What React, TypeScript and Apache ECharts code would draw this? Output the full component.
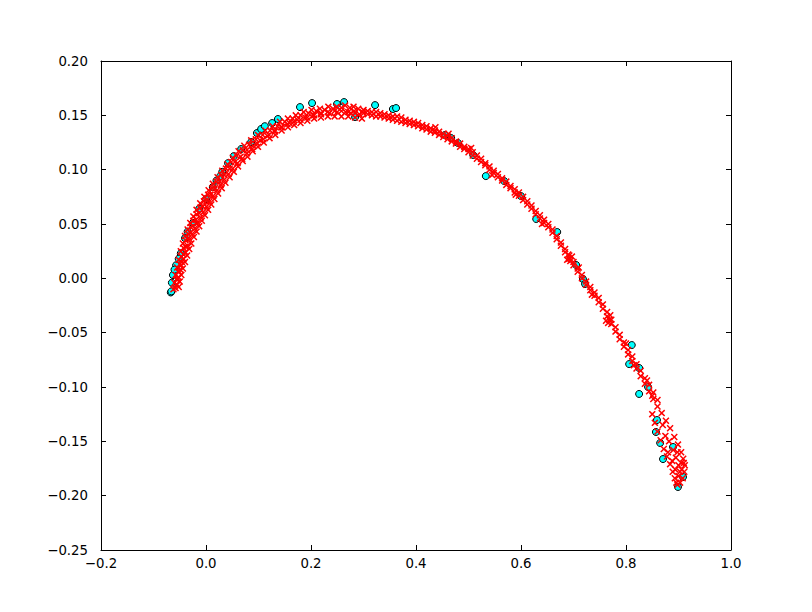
import React, { useEffect, useRef } from "react";
import * as echarts from "echarts";

const xTicks = [-0.2, 0.0, 0.2, 0.4, 0.6, 0.8, 1.0];
const yTicks = [-0.25, -0.2, -0.15, -0.1, -0.05, 0.0, 0.05, 0.1, 0.15, 0.2];

const cyanPoints: number[][] = [
  [-0.067, -0.013], [-0.066, -0.012], [-0.065, -0.004], [-0.063, 0.003], [-0.057, 0.012],
  [-0.048, 0.023], [-0.040, 0.037], [-0.025, 0.051], [-0.013, 0.064], [0.0, 0.073],
  [0.013, 0.084], [0.027, 0.094], [0.031, 0.098], [0.042, 0.106], [0.053, 0.1125],
  [0.067, 0.119], [0.086, 0.1254], [0.097, 0.1337], [0.105, 0.1374], [0.126, 0.1429],
  [0.137, 0.1466], [0.179, 0.1576], [0.202, 0.1613], [0.2495, 0.1604], [0.263, 0.1622],
  [0.284, 0.1484], [0.322, 0.1594], [0.356, 0.1558], [0.362, 0.1567], [0.455, 0.1319],
  [0.467, 0.1291], [0.48, 0.1245], [0.509, 0.1135], [0.533, 0.0941], [0.568, 0.0895],
  [0.60, 0.0757], [0.629, 0.0546], [0.669, 0.0426], [0.705, 0.0123], [0.718, -0.0006],
  [0.722, -0.0052], [0.811, -0.0614], [0.806, -0.0789], [0.825, -0.0825], [0.842, -0.100],
  [0.825, -0.1064], [0.859, -0.1304], [0.857, -0.1414], [0.865, -0.1515], [0.8895, -0.1552],
  [0.8705, -0.1663], [0.899, -0.192], [0.9086, -0.1828], [-0.060, 0.008], [-0.052, 0.018],
  [-0.035, 0.043], [0.020, 0.090], [0.112, 0.140],
];

// inner edge of the red band (close to the cyan points)
const redInner: number[][] = [
  [-0.062, -0.010], [-0.058, -0.009], [-0.055, -0.006], [-0.060, -0.004], [-0.056, -0.001],
  [-0.052, 0.001], [-0.058, 0.003], [-0.053, 0.006], [-0.049, 0.008], [-0.055, 0.010],
  [-0.050, 0.013], [-0.046, 0.015], [-0.052, 0.017], [-0.047, 0.020], [-0.043, 0.022],
  [-0.048, 0.025], [-0.043, 0.028], [-0.039, 0.029], [-0.044, 0.032], [-0.039, 0.035],
  [-0.035, 0.036], [-0.040, 0.039], [-0.034, 0.041], [-0.030, 0.042], [-0.035, 0.045],
  [-0.029, 0.047], [-0.025, 0.048], [-0.030, 0.051], [-0.024, 0.053], [-0.019, 0.054],
  [-0.024, 0.057], [-0.018, 0.059], [-0.013, 0.060], [-0.018, 0.063], [-0.011, 0.065],
  [-0.006, 0.066], [-0.011, 0.069], [-0.004, 0.071], [0.001, 0.071], [-0.003, 0.075],
  [0.004, 0.077], [0.009, 0.077], [0.005, 0.081], [0.012, 0.083], [0.017, 0.083],
  [0.013, 0.087], [0.020, 0.089], [0.026, 0.089], [0.022, 0.093], [0.029, 0.095],
  [0.035, 0.095], [0.031, 0.099], [0.038, 0.101], [0.045, 0.101], [0.041, 0.105],
  [0.048, 0.107], [0.055, 0.107], [0.051, 0.111], [0.058, 0.113], [0.066, 0.112],
  [0.062, 0.117], [0.070, 0.118], [0.078, 0.118], [0.073, 0.122], [0.082, 0.123],
  [0.090, 0.122], [0.086, 0.127], [0.095, 0.128], [0.103, 0.127], [0.099, 0.132],
  [0.108, 0.132], [0.117, 0.131], [0.113, 0.136], [0.122, 0.136], [0.131, 0.135],
  [0.127, 0.140], [0.136, 0.140], [0.145, 0.139], [0.141, 0.144], [0.150, 0.144],
  [0.159, 0.143], [0.156, 0.147], [0.165, 0.147], [0.174, 0.146], [0.171, 0.150],
  [0.180, 0.150], [0.189, 0.148], [0.186, 0.153], [0.195, 0.152], [0.204, 0.150],
  [0.201, 0.155], [0.210, 0.154], [0.219, 0.151], [0.217, 0.156], [0.226, 0.155],
  [0.235, 0.152], [0.233, 0.158], [0.242, 0.156], [0.250, 0.153], [0.249, 0.158],
  [0.258, 0.157], [0.266, 0.153], [0.265, 0.159], [0.274, 0.157], [0.282, 0.154],
  [0.281, 0.158], [0.290, 0.156], [0.298, 0.153], [0.292, 0.151], [0.276, 0.152],
];

// middle and outer rows of the red band on the rising side
const redMiddle: number[][] = [
  [-0.057, -0.006], [-0.054, 0.000], [-0.051, 0.006], [-0.047, 0.012], [-0.043, 0.018],
  [-0.039, 0.024], [-0.035, 0.030], [-0.031, 0.036], [-0.026, 0.041], [-0.021, 0.046],
  [-0.016, 0.051], [-0.010, 0.056], [-0.005, 0.061], [0.001, 0.066], [0.007, 0.071],
  [0.014, 0.076], [0.021, 0.081], [0.028, 0.086], [0.035, 0.091], [0.043, 0.096],
  [0.051, 0.101], [0.060, 0.106], [0.069, 0.110], [0.078, 0.115], [0.088, 0.119],
  [0.098, 0.124], [0.109, 0.128], [0.120, 0.132], [0.131, 0.136], [0.143, 0.139],
  [0.155, 0.142], [0.167, 0.144], [0.180, 0.146], [0.193, 0.148], [0.206, 0.150],
  [0.219, 0.152], [0.232, 0.153], [0.245, 0.154], [0.258, 0.154], [0.271, 0.153],
  [0.284, 0.152],
];

const redOuter: number[][] = [
  [-0.052, -0.008], [-0.050, -0.003], [-0.047, 0.003], [-0.044, 0.009], [-0.040, 0.015],
  [-0.036, 0.021], [-0.032, 0.027], [-0.028, 0.032], [-0.023, 0.038], [-0.018, 0.043],
  [-0.013, 0.048], [-0.008, 0.053], [-0.002, 0.058], [0.004, 0.063], [0.010, 0.068],
  [0.016, 0.073], [0.023, 0.078], [0.030, 0.083], [0.037, 0.088], [0.045, 0.093],
  [0.053, 0.098], [0.061, 0.103], [0.070, 0.108], [0.079, 0.112], [0.089, 0.117],
  [0.099, 0.121], [0.110, 0.125], [0.121, 0.129], [0.132, 0.132], [0.144, 0.136],
  [0.156, 0.139], [0.168, 0.141], [0.180, 0.143], [0.193, 0.145], [0.206, 0.147],
  [0.219, 0.148], [0.232, 0.149], [0.245, 0.149], [0.258, 0.149], [0.271, 0.149],
  [0.284, 0.148], [0.297, 0.147],
];

// descending side and the loop at the bottom
const redDescent: number[][] = [
  [0.300, 0.155], [0.300, 0.152], [0.308, 0.154], [0.308, 0.151], [0.316, 0.153],
  [0.316, 0.150], [0.324, 0.153], [0.324, 0.149], [0.332, 0.152], [0.332, 0.149],
  [0.340, 0.151], [0.340, 0.148], [0.348, 0.150], [0.348, 0.147], [0.356, 0.149],
  [0.356, 0.146], [0.364, 0.149], [0.364, 0.145], [0.372, 0.148], [0.372, 0.144],
  [0.380, 0.146], [0.380, 0.143], [0.388, 0.145], [0.388, 0.142], [0.396, 0.144],
  [0.396, 0.141], [0.404, 0.143], [0.404, 0.140], [0.412, 0.141], [0.412, 0.138],
  [0.420, 0.140], [0.420, 0.137], [0.428, 0.138], [0.428, 0.135], [0.436, 0.136],
  [0.436, 0.134], [0.444, 0.135], [0.444, 0.132], [0.452, 0.133], [0.452, 0.130],
  [0.460, 0.131], [0.460, 0.128], [0.468, 0.129], [0.468, 0.126], [0.476, 0.126],
  [0.476, 0.124], [0.484, 0.124], [0.484, 0.121], [0.492, 0.121], [0.492, 0.119],
  [0.500, 0.119], [0.500, 0.116], [0.508, 0.116], [0.508, 0.113], [0.516, 0.113],
  [0.516, 0.110], [0.524, 0.110], [0.524, 0.107], [0.532, 0.106], [0.532, 0.104],
  [0.540, 0.103], [0.540, 0.100], [0.548, 0.099], [0.548, 0.097], [0.556, 0.096],
  [0.556, 0.093], [0.564, 0.092], [0.564, 0.090], [0.572, 0.089], [0.572, 0.086],
  [0.580, 0.085], [0.580, 0.083], [0.588, 0.082], [0.588, 0.079], [0.596, 0.079],
  [0.596, 0.076], [0.604, 0.075], [0.604, 0.072], [0.612, 0.071], [0.612, 0.068],
  [0.620, 0.067], [0.620, 0.064], [0.628, 0.062], [0.628, 0.059], [0.636, 0.058],
  [0.636, 0.055], [0.644, 0.054], [0.644, 0.051], [0.652, 0.050], [0.652, 0.047],
  [0.660, 0.045], [0.660, 0.042], [0.668, 0.039], [0.668, 0.036], [0.676, 0.033],
  [0.676, 0.030], [0.684, 0.027], [0.684, 0.024], [0.692, 0.021], [0.692, 0.018],
  [0.690, 0.022], [0.694, 0.016], [0.697, 0.020], [0.688, 0.017],
  [0.700, 0.015], [0.700, 0.012], [0.708, 0.009], [0.708, 0.006], [0.716, 0.003],
  [0.716, 0.000], [0.724, -0.003], [0.724, -0.006], [0.732, -0.008], [0.732, -0.011],
  [0.740, -0.013], [0.740, -0.016], [0.748, -0.018], [0.748, -0.022], [0.756, -0.024],
  [0.756, -0.028], [0.764, -0.031], [0.764, -0.035], [0.768, -0.038], [0.762, -0.039],
  [0.770, -0.034], [0.766, -0.041], [0.772, -0.038], [0.772, -0.042], [0.780, -0.045],
  [0.780, -0.049], [0.788, -0.052], [0.788, -0.056], [0.796, -0.059], [0.796, -0.063],
  [0.804, -0.066], [0.804, -0.070], [0.812, -0.072], [0.812, -0.076], [0.820, -0.079],
  [0.820, -0.083], [0.828, -0.085], [0.828, -0.090], [0.836, -0.092], [0.836, -0.097],
  [0.844, -0.098], [0.844, -0.104], [0.852, -0.105], [0.852, -0.111], [0.860, -0.112],
  [0.860, -0.118], [0.868, -0.124], [0.876, -0.131], [0.884, -0.138], [0.892, -0.146],
  [0.899, -0.153], [0.905, -0.160], [0.909, -0.166], [0.912, -0.172], [0.911, -0.178],
  [0.908, -0.184], [0.903, -0.188], [0.898, -0.190], [0.850, -0.125], [0.855, -0.133],
  [0.860, -0.141], [0.866, -0.149], [0.872, -0.157], [0.878, -0.164], [0.884, -0.171],
  [0.889, -0.178], [0.893, -0.184], [0.896, -0.188], [0.895, -0.165], [0.900, -0.172],
  [0.903, -0.178], [0.905, -0.170], [0.898, -0.160], [0.890, -0.158], [0.882, -0.150],
  [0.875, -0.145], [0.880, -0.160], [0.888, -0.168], [0.906, -0.176], [0.910, -0.170],
  [0.900, -0.182], [0.894, -0.176], [0.437, 0.139], [0.462, 0.133], [0.505, 0.120],
  [0.545, 0.095], [0.590, 0.077], [0.640, 0.050], [0.710, 0.010], [0.735, -0.015],
  [0.800, -0.060], [0.840, -0.094], [0.815, -0.080], [0.850, -0.108], [0.870, -0.135],
];

const redPoints: number[][] = [...redInner, ...redMiddle, ...redOuter, ...redDescent];

const fmt = (v: number, d: number) => v.toFixed(d).replace("-", "\u2212");
const font = "DejaVu Sans";

export default function App() {
  const ref = useRef<HTMLDivElement>(null);
  useEffect(() => {
    if (!ref.current) return;
    const chart = echarts.init(ref.current, null, { renderer: "svg" });
    const axisCommon = {
      axisLine: { show: true, onZero: false, lineStyle: { color: "#000", width: 1 } },
      axisTick: { show: true, inside: true, length: 5, lineStyle: { color: "#000", width: 1 } },
      splitLine: { show: false },
    };
    chart.setOption({
      animation: false,
      backgroundColor: "#fff",
      grid: { left: 101, top: 61, width: 630, height: 489, containLabel: false },
      xAxis: [
        {
          type: "value", min: xTicks[0], max: xTicks[xTicks.length - 1], interval: 0.2,
          position: "bottom", ...axisCommon,
          axisLabel: { show: true, margin: 7, color: "#000", fontSize: 13.3, fontFamily: font, formatter: (v: number) => fmt(v, 1) },
        },
        {
          type: "value", min: xTicks[0], max: xTicks[xTicks.length - 1], interval: 0.2,
          position: "top", ...axisCommon, axisLabel: { show: false },
        },
      ],
      yAxis: [
        {
          type: "value", min: yTicks[0], max: yTicks[yTicks.length - 1], interval: 0.05,
          position: "left", ...axisCommon,
          axisLabel: { show: true, margin: 13, color: "#000", fontSize: 13.3, fontFamily: font, formatter: (v: number) => fmt(v, 2) },
        },
        {
          type: "value", min: yTicks[0], max: yTicks[yTicks.length - 1], interval: 0.05,
          position: "right", ...axisCommon, axisLabel: { show: false },
        },
      ],
      series: [
        {
          type: "scatter", data: cyanPoints, symbol: "circle", symbolSize: 7,
          itemStyle: { color: "#00FFFF", borderColor: "#000", borderWidth: 1, opacity: 1 },
          xAxisIndex: 0, yAxisIndex: 0,
        },
        {
          type: "scatter", data: redPoints,
          symbol: "path://M0,1.5L1.5,0L5,3.5L8.5,0L10,1.5L6.5,5L10,8.5L8.5,10L5,6.5L1.5,10L0,8.5L3.5,5Z",
          symbolSize: 7,
          itemStyle: { color: "#FF0000", opacity: 1 },
          xAxisIndex: 0, yAxisIndex: 0,
        },
      ],
    });
    return () => chart.dispose();
  }, []);
  return <div ref={ref} style={{ position: "absolute", left: 0, top: 0, width: 812, height: 612 }} />;
}
